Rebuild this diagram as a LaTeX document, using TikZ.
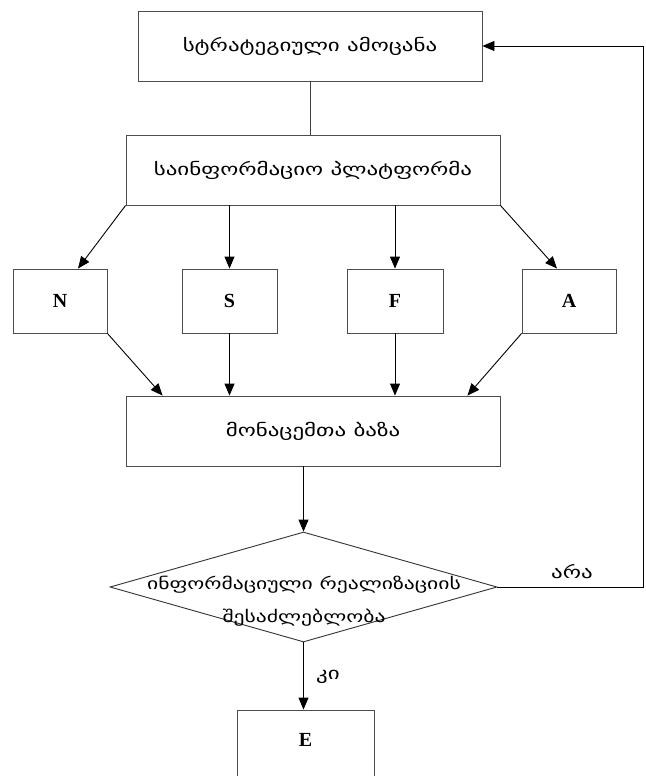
\documentclass[tikz,border=0pt]{standalone}
\usepackage{fontspec}
\setmainfont{Liberation Serif}
\newfontfamily\geo[FakeStretch=1.35]{DejaVu Sans}
\usetikzlibrary{shapes.geometric,arrows.meta,calc}
\tikzset{
  box/.style={draw=black!70, line width=0.9pt, rectangle, inner sep=0pt},
  geotext/.style={font=\geo\fontsize{17}{20}\selectfont},
  letter/.style={font=\bfseries\fontsize{20}{24}\selectfont},
  arr/.style={-{Triangle[length=12pt,width=10pt]}, line width=0.9pt, black},
  conn/.style={line width=0.9pt, black!75},
}
\begin{document}
\begin{tikzpicture}[x=1pt,y=-1pt]
\clip (0,0) rectangle (645,776);
\node[box, minimum width=344, minimum height=70, geotext] (T) at (310,46) {სტრატეგიული ამოცანა};
\node[box, minimum width=374, minimum height=70, geotext] (P) at (313,170) {საინფორმაციო პლატფორმა};
\node[box, minimum width=94, minimum height=64, letter] (N) at (60,301) {N};
\node[box, minimum width=95, minimum height=64, letter] (S) at (229.5,301) {S};
\node[box, minimum width=96, minimum height=64, letter] (F) at (395,301) {F};
\node[box, minimum width=94, minimum height=64, letter] (A) at (569,301) {A};
\node[box, minimum width=374, minimum height=70, geotext] (DB) at (313,431) {მონაცემთა ბაზა};
\node[diamond, draw=black!80, line width=0.9pt, minimum width=387, minimum height=110, inner sep=0pt] (D) at (303.5,587) {};
\node[font=\geo\fontsize{16}{33}\selectfont, align=center] (Dt) at (304,601) {ინფორმაციული რეალიზაციის\\შესაძლებლობა};
\node[box, minimum width=137, minimum height=80, letter, text height=14pt, text depth=22pt] (E) at (305.5,750) {E};
\coordinate (R1) at (643,587);
\coordinate (R2) at (643,46);
\draw[conn] (T.south) -- (T.south |- P.north);
\draw[arr] (P.south west) -- ([xshift=18pt]N.north);
\draw[arr] (S.north |- P.south) -- (S.north);
\draw[arr] (F.north |- P.south) -- (F.north);
\draw[arr] (P.south east) -- ([xshift=-12pt]A.north);
\draw[arr] (N.south east) -- ([xshift=37pt]DB.north west);
\draw[arr] (S.south) -- (S.south |- DB.north);
\draw[arr] (F.south) -- (F.south |- DB.north);
\draw[arr] (A.south west) -- ([xshift=-33pt]DB.north east);
\draw[arr] (DB.south -| D.north) -- (D.north);
\draw[arr] (D.south) -- (D.south |- E.north);
\draw[arr] (D.east) -- (R1) -- (R2) -- (T.east);
\node[geotext] (no) at (572,572) {არა};
\node[geotext] (yes) at (328,677) {კი};
\end{tikzpicture}
\end{document}
